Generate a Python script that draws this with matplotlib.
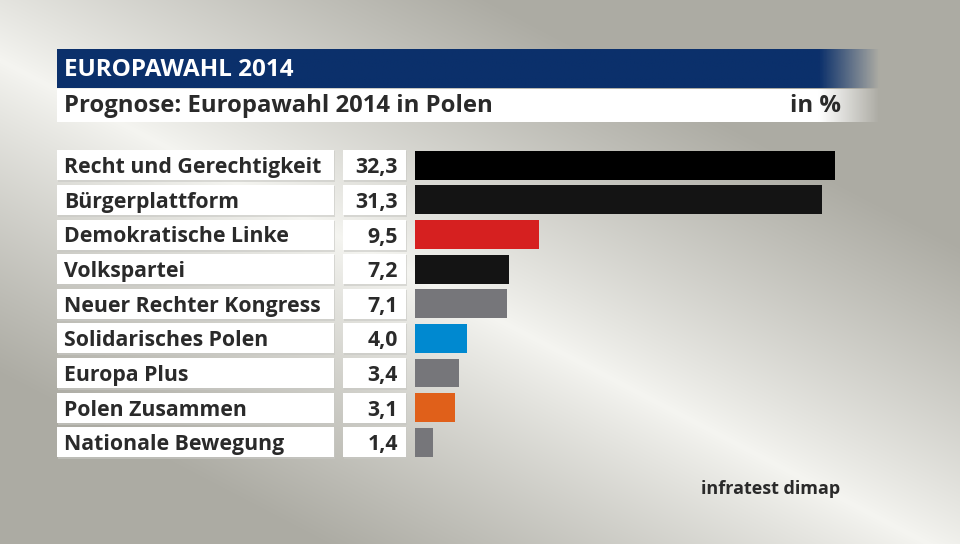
import matplotlib
matplotlib.use("Agg")
import matplotlib.pyplot as plt
import numpy as np
from matplotlib.patches import Rectangle

# data
parteien = ["Recht und Gerechtigkeit", "Bürgerplattform", "Demokratische Linke",
            "Volkspartei", "Neuer Rechter Kongress", "Solidarisches Polen",
            "Europa Plus", "Polen Zusammen", "Nationale Bewegung"]
werte = [32.3, 31.3, 9.5, 7.2, 7.1, 4.0, 3.4, 3.1, 1.4]
farben = ["#000000", "#141414", "#d62020", "#141414", "#76767a",
          "#0089d0", "#76767a", "#e0601a", "#76767a"]

FONT = "Open Sans"
TXT = "#2a2a2a"

fig = plt.figure(figsize=(9.6, 5.44), dpi=100)

# background with diagonal gradient
bg = fig.add_axes([0, 0, 1, 1])
bg.set_xlim(0, 960)
bg.set_ylim(544, 0)
bg.axis("off")
yy, xx = np.mgrid[0:544, 0:960]
d = (-0.462 * xx + 0.887 * (yy - 60))
t = np.clip(np.abs(d) / 280, 0, 1) ** 0.9
light = np.array([245, 245, 241]) / 255
dark = np.array([172, 171, 163]) / 255
img = light[None, None, :] * (1 - t[..., None]) + dark[None, None, :] * t[..., None]
bg.imshow(img, extent=(0, 960, 544, 0), aspect="auto", zorder=0)

# header bars with fade on the right
def fade_bar(y0, y1, color):
    rgb = matplotlib.colors.to_rgb(color)
    xs = np.linspace(57, 885, 600)
    a = np.clip((880 - xs) / 60, 0, 1)
    im = np.zeros((2, len(xs), 4))
    im[..., :3] = rgb
    im[..., 3] = a
    bg.imshow(im, extent=(57, 885, y1, y0), aspect="auto", zorder=1)

fade_bar(49, 88, "#0b306b")
fade_bar(89, 122, "#ffffff")
bg.text(64, 70, "EUROPAWAHL 2014", color="white", fontsize=17.5, fontweight="bold",
        family=FONT, va="center", ha="left", zorder=3)
bg.text(64, 106, "Prognose: Europawahl 2014 in Polen", color=TXT, fontsize=17.2,
        fontweight="bold", family=FONT, va="center", ha="left", zorder=3)
bg.text(841, 106, "in %", color=TXT, fontsize=17.2, fontweight="bold",
        family=FONT, va="center", ha="right", zorder=3)

# rows
y0 = 165.2
pitch = 34.65
for i, (name, w) in enumerate(zip(parteien, werte)):
    yc = y0 + i * pitch
    for (xa, xb) in [(57, 334), (343, 406)]:
        bg.add_patch(Rectangle((xa + 1, yc - 14), xb - xa, 31, color="#c8c8c4",
                               alpha=0.6, lw=0, zorder=1))
        bg.add_patch(Rectangle((xa, yc - 15), xb - xa, 30, color="white", lw=0, zorder=2))
    bg.text(64, yc + 2.5, name, color=TXT, fontsize=15.3, fontweight="bold",
            family=FONT, va="center", ha="left", zorder=3)
    bg.text(398, yc + 2.5, f"{w:.1f}".replace(".", ","), color=TXT, fontsize=15.3,
            fontweight="bold", family=FONT, va="center", ha="right", zorder=3)

# bar axes: 13 px per percent
top = y0 - pitch / 2
bottom = y0 + 8 * pitch + pitch / 2
ax = fig.add_axes([415 / 960, 1 - bottom / 544, 520 / 960, (bottom - top) / 544])
ax.patch.set_alpha(0)
ax.barh(range(len(werte)), werte, height=0.83, color=farben, zorder=3)
ax.set_xlim(0, 40)
ax.set_ylim(len(werte) - 0.5, -0.5)
ax.axis("off")

bg.text(840, 489, "infratest dimap", color=TXT, fontsize=13, fontweight="bold",
        family=FONT, va="center", ha="right", zorder=3)

fig.savefig("out.png", dpi=100)
